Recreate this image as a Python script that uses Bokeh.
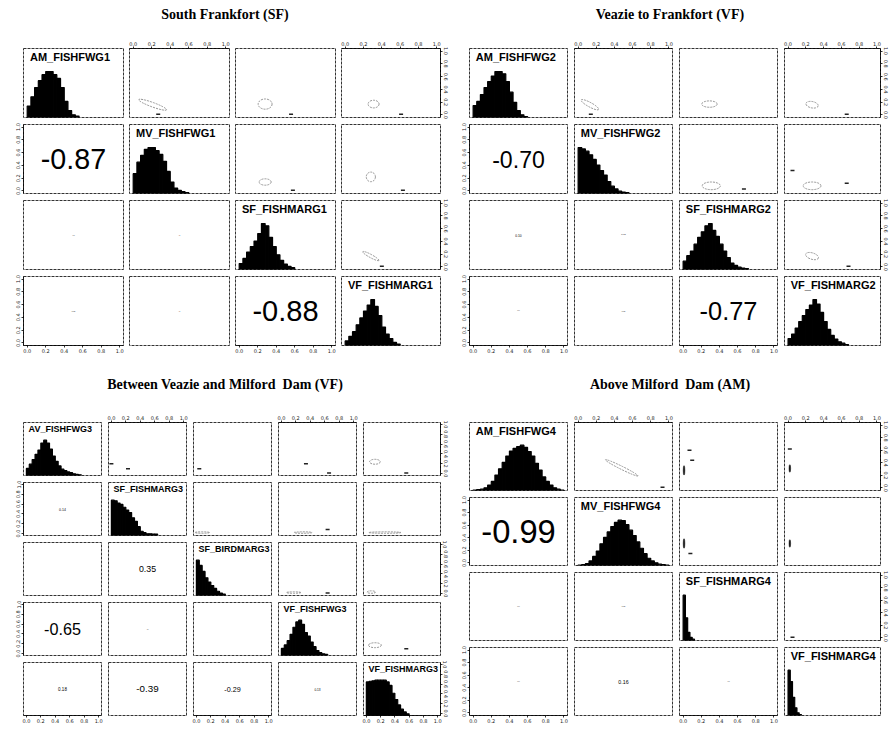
import numpy as np
from bokeh.plotting import figure
from bokeh.layouts import gridplot, column, row
from bokeh.models import Div, LinearAxis, FixedTicker, PrintfTickFormatter, Range1d
from bokeh.core.properties import value
from bokeh.embed import file_html
from bokeh.resources import INLINE

# ------------------------------------------------------------------ data
TICKS = [0.0, 0.2, 0.4, 0.6, 0.8, 1.0]

# --- South Frankfort (SF)
G1_TITLE = "South Frankfort (SF)"
G1_VARS = ["AM_FISHFWG1", "MV_FISHFWG1", "SF_FISHMARG1", "VF_FISHMARG1"]
G1_BINW = [0.04, 0.04, 0.04, 0.04]
G1_H_AM = [0.25, 0.45, 0.65, 0.8, 0.93, 1.0, 1.0, 0.93, 0.85, 0.65, 0.35, 0.15, 0.06, 0.03]
G1_H_MV = [0.43, 0.68, 0.83, 0.96, 1.0, 1.0, 0.93, 0.85, 0.7, 0.48, 0.25, 0.12, 0.07, 0.04, 0.02]
G1_H_SF = [0.13, 0.24, 0.38, 0.5, 0.62, 0.78, 1.0, 0.95, 0.7, 0.5, 0.32, 0.2, 0.12, 0.07, 0.04]
G1_H_VF = [0.1, 0.2, 0.3, 0.45, 0.6, 0.75, 0.88, 1.0, 0.85, 0.65, 0.4, 0.25, 0.15, 0.07, 0.03]
G1_COR_ROW = [1, 2, 2, 3, 3, 3]
G1_COR_COL = [0, 0, 1, 0, 1, 2]
G1_COR_VAL = [-0.87, 0.03, 0.02, 0.05, 0.02, -0.88]
G1_ELL_ROW = [0, 0, 0, 1, 1, 2]
G1_ELL_COL = [1, 2, 3, 2, 3, 3]
G1_ELL_X = [0.21, 0.28, 0.31, 0.28, 0.28, 0.28]
G1_ELL_Y = [0.16, 0.17, 0.17, 0.14, 0.22, 0.17]
G1_ELL_W = [0.32, 0.15, 0.12, 0.13, 0.10, 0.20]
G1_ELL_H = [0.07, 0.16, 0.12, 0.10, 0.15, 0.05]
G1_ELL_A = [-0.35, 0.0, 0.0, 0.0, 0.0, -0.5]
G1_MARK_ROW = [0, 0, 0, 1, 1, 2]
G1_MARK_COL = [1, 2, 3, 2, 3, 3]
G1_MARK_X = [0.27, 0.56, 0.61, 0.58, 0.63, 0.40]
G1_MARK_Y = [0.01, 0.01, 0.01, 0.01, 0.01, 0.01]

# --- Veazie to Frankfort (VF)
G2_TITLE = "Veazie to Frankfort (VF)"
G2_VARS = ["AM_FISHFWG2", "MV_FISHFWG2", "SF_FISHMARG2", "VF_FISHMARG2"]
G2_BINW = [0.04, 0.04, 0.04, 0.04]
G2_H_AM = [0.26, 0.35, 0.5, 0.65, 0.78, 0.9, 1.0, 1.0, 0.95, 0.78, 0.55, 0.33, 0.15, 0.06, 0.02]
G2_H_MV = [1.0, 0.97, 0.92, 0.84, 0.74, 0.62, 0.5, 0.4, 0.26, 0.16, 0.1, 0.05, 0.03, 0.02]
G2_H_SF = [0.18, 0.3, 0.4, 0.55, 0.7, 0.82, 0.95, 1.0, 0.85, 0.72, 0.55, 0.4, 0.26, 0.14, 0.09, 0.05, 0.03, 0.02]
G2_H_VF = [0.15, 0.25, 0.38, 0.52, 0.65, 0.78, 0.88, 1.0, 0.9, 0.72, 0.52, 0.35, 0.22, 0.14, 0.08, 0.05, 0.02]
G2_COR_ROW = [1, 2, 2, 3, 3, 3]
G2_COR_COL = [0, 0, 1, 0, 1, 2]
G2_COR_VAL = [-0.70, 0.10, 0.07, 0.04, 0.05, -0.77]
G2_ELL_ROW = [0, 0, 0, 1, 1, 2]
G2_ELL_COL = [1, 2, 3, 2, 3, 3]
G2_ELL_X = [0.13, 0.29, 0.27, 0.31, 0.27, 0.27]
G2_ELL_Y = [0.16, 0.17, 0.16, 0.08, 0.08, 0.17]
G2_ELL_W = [0.22, 0.17, 0.14, 0.20, 0.20, 0.15]
G2_ELL_H = [0.07, 0.10, 0.10, 0.12, 0.12, 0.10]
G2_ELL_A = [-0.5, 0.0, -0.2, 0.0, 0.0, -0.3]
G2_MARK_ROW = [0, 0, 1, 1, 1, 2]
G2_MARK_COL = [1, 3, 2, 3, 3, 3]
G2_MARK_X = [0.14, 0.66, 0.67, 0.66, 0.05, 0.68]
G2_MARK_Y = [0.01, 0.01, 0.03, 0.12, 0.32, 0.01]

# --- Between Veazie and Milford Dam (VF)
G3_TITLE = "Between Veazie and Milford  Dam (VF)"
G3_VARS = ["AV_FISHFWG3", "SF_FISHMARG3", "SF_BIRDMARG3", "VF_FISHFWG3", "VF_FISHMARG3"]
G3_BINW = [0.04, 0.04, 0.04, 0.04, 0.04]
G3_H_AV = [0.2, 0.32, 0.45, 0.6, 0.72, 0.92, 1.0, 0.92, 0.75, 0.55, 0.4, 0.27, 0.18, 0.14, 0.1, 0.08, 0.05, 0.03, 0.02]
G3_H_SFF = [1.0, 0.98, 0.92, 0.88, 0.8, 0.72, 0.65, 0.5, 0.4, 0.25, 0.12, 0.08, 0.05, 0.05, 0.04, 0.04]
G3_H_SFB = [1.0, 0.85, 0.68, 0.5, 0.38, 0.28, 0.2, 0.12, 0.07, 0.04]
G3_H_VFF = [0.2, 0.3, 0.42, 0.6, 0.8, 0.95, 1.0, 0.88, 0.65, 0.55, 0.38, 0.25, 0.14, 0.08, 0.05, 0.03]
G3_H_VFM = [0.95, 0.97, 0.98, 1.0, 1.0, 1.0, 1.0, 0.95, 0.85, 0.63, 0.45, 0.3, 0.18, 0.1, 0.05]
G3_COR_ROW = [1, 2, 2, 3, 3, 3, 4, 4, 4, 4]
G3_COR_COL = [0, 0, 1, 0, 1, 2, 0, 1, 2, 3]
G3_COR_VAL = [0.14, 0.02, 0.35, -0.65, 0.03, 0.02, 0.18, -0.39, -0.29, 0.13]
G3_ELL_ROW = [0, 1, 1, 1, 2, 2, 3]
G3_ELL_COL = [4, 2, 3, 4, 3, 4, 4]
G3_ELL_X = [0.12, 0.08, 0.30, 0.26, 0.17, 0.07, 0.12]
G3_ELL_Y = [0.24, 0.02, 0.02, 0.02, 0.02, 0.03, 0.17]
G3_ELL_W = [0.15, 0.20, 0.25, 0.45, 0.20, 0.12, 0.18]
G3_ELL_H = [0.10, 0.03, 0.03, 0.03, 0.03, 0.05, 0.10]
G3_ELL_A = [0.0, 0.0, 0.0, 0.0, 0.0, 0.0, 0.0]
G3_MARK_ROW = [0, 0, 0, 0, 0, 0, 1, 2, 3]
G3_MARK_COL = [1, 1, 2, 3, 3, 4, 3, 3, 4]
G3_MARK_X = [0.0, 0.23, 0.04, 0.34, 0.66, 0.56, 0.64, 0.64, 0.56]
G3_MARK_Y = [0.2, 0.1, 0.1, 0.2, 0.01, 0.01, 0.08, 0.01, 0.1]

# --- Above Milford Dam (AM)
G4_TITLE = "Above Milford  Dam (AM)"
G4_VARS = ["AM_FISHFWG4", "MV_FISHFWG4", "SF_FISHMARG4", "VF_FISHMARG4"]
G4_BINW = [0.04, 0.04, 0.025, 0.025]
G4_H_AM = [0.01, 0.02, 0.03, 0.06, 0.12, 0.2, 0.34, 0.48, 0.62, 0.76, 0.87, 0.93, 0.97, 1.0, 0.95,
           0.86, 0.76, 0.6, 0.45, 0.3, 0.2, 0.12, 0.06, 0.03, 0.01]
G4_H_MV = [0.01, 0.02, 0.04, 0.1, 0.2, 0.32, 0.48, 0.62, 0.74, 0.86, 0.95, 1.0, 0.99, 0.9, 0.78,
           0.66, 0.52, 0.38, 0.26, 0.16, 0.1, 0.06, 0.03, 0.02, 0.01]
G4_H_SF = [1.0, 0.5, 0.18, 0.07, 0.03]
G4_H_VF = [1.0, 0.75, 0.4, 0.17, 0.06, 0.02]
G4_COR_ROW = [1, 2, 2, 3, 3, 3]
G4_COR_COL = [0, 0, 1, 0, 1, 2]
G4_COR_VAL = [-0.99, 0.04, 0.05, 0.04, 0.16, 0.03]
G4_ELL_ROW = [0]
G4_ELL_COL = [1]
G4_ELL_X = [0.48]
G4_ELL_Y = [0.32]
G4_ELL_W = [0.40]
G4_ELL_H = [0.05]
G4_ELL_A = [-0.46]
G4_BLOB_ROW = [0, 0, 1, 1]
G4_BLOB_COL = [2, 3, 2, 3]
G4_BLOB_X = [0.01, 0.02, 0.01, 0.02]
G4_BLOB_Y = [0.28, 0.31, 0.31, 0.31]
G4_BLOB_W = [0.018, 0.018, 0.018, 0.018]
G4_BLOB_H = [0.15, 0.12, 0.15, 0.12]
G4_MARK_ROW = [0, 0, 0, 0, 1, 2]
G4_MARK_COL = [1, 2, 2, 3, 2, 3]
G4_MARK_X = [0.93, 0.10, 0.07, 0.02, 0.08, 0.05]
G4_MARK_Y = [0.01, 0.44, 0.60, 0.62, 0.15, 0.01]


# ------------------------------------------------------------------ helpers
def make_axis(**kw):
    ax = LinearAxis(ticker=FixedTicker(ticks=TICKS),
                    formatter=PrintfTickFormatter(format="%.1f"), **kw)
    ax.major_label_text_font_size = "5px"
    ax.major_label_text_font = "DejaVu Sans"
    ax.major_label_text_color = "#222222"
    ax.major_tick_in = 0
    ax.major_tick_out = 2
    ax.major_label_standoff = 1
    ax.minor_tick_line_color = None
    ax.axis_line_width = 0.8
    ax.major_tick_line_width = 0.8
    return ax


def build_group(spec):
    names = spec["vars"]
    n = len(names)
    grid = []
    for i in range(n):
        grid_row = []
        for j in range(n):
            bl = spec["outer_l"] if j == 0 else spec["gap_l"]
            br = spec["outer_r"] if j == n - 1 else spec["gap_r"]
            bt = spec["outer_t"] if i == 0 else spec["gap_t"]
            bb = spec["outer_b"] if i == n - 1 else spec["gap_b"]
            diag = (i == j)
            p = figure(width=bl + spec["fw"] + br, height=bt + spec["fh"] + bb,
                       x_range=Range1d(-0.04, 1.04),
                       y_range=Range1d(0, 1.5) if diag else Range1d(-0.04, 1.04),
                       x_axis_type=None, y_axis_type=None,
                       toolbar_location=None, output_backend="svg",
                       min_border_left=bl, min_border_right=br,
                       min_border_top=bt, min_border_bottom=bb)
            p.outline_line_color = "#333333"
            p.outline_line_dash = "3 1"
            p.outline_line_width = 1
            p.background_fill_color = "white"
            p.border_fill_color = "white"
            yname = "default"
            if diag:
                p.extra_y_ranges = {"v": Range1d(-0.04, 1.04)}
                yname = "v"
            # R pairs() style alternating axes
            if i == 0 and j % 2 == 1:
                p.add_layout(make_axis(), "above")
            if i == n - 1 and j % 2 == 0:
                p.add_layout(make_axis(), "below")
            if j == 0 and i % 2 == 1:
                ax = make_axis(y_range_name=yname)
                ax.major_label_orientation = "vertical"
                p.add_layout(ax, "left")
            if j == n - 1 and i % 2 == 0:
                ax = make_axis(y_range_name=yname)
                ax.major_label_orientation = "vertical"
                p.add_layout(ax, "right")

            if diag:
                h = np.asarray(spec["hists"][i], dtype=float)
                bw = spec["binw"][i]
                lefts = np.arange(len(h)) * bw
                p.quad(left=lefts, right=lefts + bw, bottom=0, top=h,
                       fill_color="black", line_color="black", line_width=1.2)
                p.text(x=[0.03], y=[1.45], text=[names[i]],
                       text_font=value("Liberation Sans"), text_font_style="bold",
                       text_font_size=spec["label_size"], text_color="black",
                       text_align="left", text_baseline="top")
            elif i > j:
                for rr, cc, vv in zip(spec["cor_row"], spec["cor_col"], spec["cor_val"]):
                    if rr == i and cc == j:
                        size = spec["cor_scale"] * abs(vv)
                        p.text(x=[0.5], y=[0.5], text=["%.2f" % vv],
                               text_font=value("Liberation Sans"),
                               text_font_size="%.1fpx" % size, text_color="black",
                               text_align="center", text_baseline="middle")
            else:
                e = spec["ell"]
                sel = [k for k in range(len(e[0])) if e[0][k] == i and e[1][k] == j]
                if sel:
                    p.ellipse(x=[e[2][k] for k in sel], y=[e[3][k] for k in sel],
                              width=[e[4][k] for k in sel], height=[e[5][k] for k in sel],
                              angle=[e[6][k] for k in sel],
                              fill_color=None, line_color="#8a8a8a",
                              line_width=0.9, line_dash="2 1")
                b = spec.get("blob")
                if b:
                    sel = [k for k in range(len(b[0])) if b[0][k] == i and b[1][k] == j]
                    if sel:
                        p.ellipse(x=[b[2][k] for k in sel], y=[b[3][k] for k in sel],
                                  width=[b[4][k] for k in sel], height=[b[5][k] for k in sel],
                                  fill_color="#111111", line_color="#111111", line_width=0.5)
                m = spec["mark"]
                sel = [k for k in range(len(m[0])) if m[0][k] == i and m[1][k] == j]
                if sel:
                    p.scatter(x=[m[2][k] for k in sel], y=[m[3][k] for k in sel],
                              marker="dash", size=4, line_color="#222222", line_width=1.5)
            grid_row.append(p)
        grid.append(grid_row)
    return gridplot(grid, toolbar_location=None)


def title_div(text, width, height, top):
    html = ('<div style="width:%dpx;text-align:center;font-family:\'Liberation Serif\',serif;'
            'font-weight:bold;font-size:14px;line-height:14px;margin-top:%dpx;color:black">%s</div>'
            % (width, top, text.replace("  ", "&nbsp; ")))
    return Div(text=html, width=width, height=height, margin=(0, 0, 0, 0))


spec1 = dict(vars=G1_VARS, hists=[G1_H_AM, G1_H_MV, G1_H_SF, G1_H_VF], binw=G1_BINW,
             cor_row=G1_COR_ROW, cor_col=G1_COR_COL, cor_val=G1_COR_VAL,
             ell=(G1_ELL_ROW, G1_ELL_COL, G1_ELL_X, G1_ELL_Y, G1_ELL_W, G1_ELL_H, G1_ELL_A),
             mark=(G1_MARK_ROW, G1_MARK_COL, G1_MARK_X, G1_MARK_Y),
             fw=100, fh=69, outer_l=23, outer_r=9, outer_t=14, outer_b=14,
             gap_l=3, gap_r=3, gap_t=3, gap_b=4, label_size="11px", cor_scale=33)
spec2 = dict(vars=G2_VARS, hists=[G2_H_AM, G2_H_MV, G2_H_SF, G2_H_VF], binw=G2_BINW,
             cor_row=G2_COR_ROW, cor_col=G2_COR_COL, cor_val=G2_COR_VAL,
             ell=(G2_ELL_ROW, G2_ELL_COL, G2_ELL_X, G2_ELL_Y, G2_ELL_W, G2_ELL_H, G2_ELL_A),
             mark=(G2_MARK_ROW, G2_MARK_COL, G2_MARK_X, G2_MARK_Y),
             fw=98, fh=69, outer_l=19, outer_r=8, outer_t=14, outer_b=14,
             gap_l=3, gap_r=4, gap_t=3, gap_b=4, label_size="11px", cor_scale=33)
spec3 = dict(vars=G3_VARS, hists=[G3_H_AV, G3_H_SFF, G3_H_SFB, G3_H_VFF, G3_H_VFM], binw=G3_BINW,
             cor_row=G3_COR_ROW, cor_col=G3_COR_COL, cor_val=G3_COR_VAL,
             ell=(G3_ELL_ROW, G3_ELL_COL, G3_ELL_X, G3_ELL_Y, G3_ELL_W, G3_ELL_H, G3_ELL_A),
             mark=(G3_MARK_ROW, G3_MARK_COL, G3_MARK_X, G3_MARK_Y),
             fw=78, fh=53, outer_l=23, outer_r=9, outer_t=14, outer_b=10,
             gap_l=3, gap_r=4, gap_t=3, gap_b=4, label_size="9px", cor_scale=25)
spec4 = dict(vars=G4_VARS, hists=[G4_H_AM, G4_H_MV, G4_H_SF, G4_H_VF], binw=G4_BINW,
             cor_row=G4_COR_ROW, cor_col=G4_COR_COL, cor_val=G4_COR_VAL,
             ell=(G4_ELL_ROW, G4_ELL_COL, G4_ELL_X, G4_ELL_Y, G4_ELL_W, G4_ELL_H, G4_ELL_A),
             blob=(G4_BLOB_ROW, G4_BLOB_COL, G4_BLOB_X, G4_BLOB_Y, G4_BLOB_W, G4_BLOB_H),
             mark=(G4_MARK_ROW, G4_MARK_COL, G4_MARK_X, G4_MARK_Y),
             fw=98, fh=68, outer_l=19, outer_r=8, outer_t=14, outer_b=10,
             gap_l=3, gap_r=4, gap_t=3, gap_b=4, label_size="11px", cor_scale=33)

g1 = build_group(spec1)
g2 = build_group(spec2)
g3 = build_group(spec3)
g4 = build_group(spec4)

page = column(
    row(column(title_div(G1_TITLE, 450, 34, 8), g1),
        column(title_div(G2_TITLE, 440, 34, 8), g2)),
    row(column(title_div(G3_TITLE, 450, 49, 19), g3),
        column(title_div(G4_TITLE, 440, 49, 19), g4)),
)

with open("out.html", "w") as f:
    f.write(file_html(page, INLINE))
